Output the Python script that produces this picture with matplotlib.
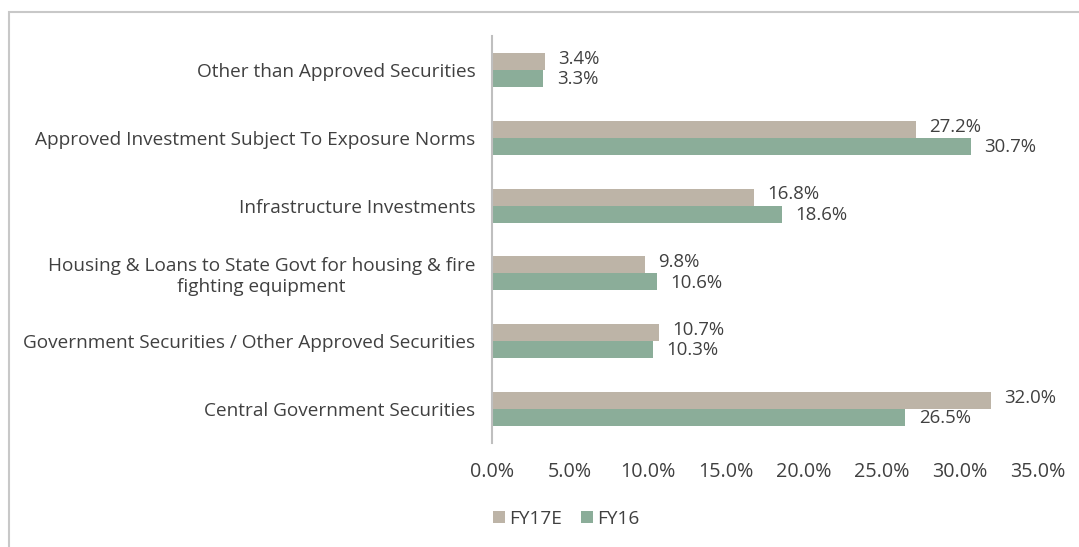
import matplotlib
matplotlib.use("Agg")
import matplotlib.pyplot as plt
from matplotlib.patches import Rectangle
import numpy as np

categories = [
    "Central Government Securities",
    "Government Securities / Other Approved Securities",
    "Housing & Loans to State Govt for housing & fire\nfighting equipment",
    "Infrastructure Investments",
    "Approved Investment Subject To Exposure Norms",
    "Other than Approved Securities",
]
fy17e = [32.0, 10.7, 9.8, 16.8, 27.2, 3.4]
fy16 = [26.5, 10.3, 10.6, 18.6, 30.7, 3.3]
xticks = [0, 5, 10, 15, 20, 25, 30, 35]

c17 = "#BDB4A7"
c16 = "#8BAD99"
tcol = "#404040"
fs_cat = 13.7
fs_num = 14.2
fs_lab = 13.4
plt.rcParams['font.family'] = ['Open Sans', 'DejaVu Sans']

fig = plt.figure(figsize=(10.79, 5.47), dpi=100)
W, H = 1079, 547
ax = fig.add_axes([492 / W, 1 - 443 / H, (1038 - 492) / W, (443 - 36) / H])

y = np.arange(len(categories))
h = 0.25
ax.barh(y + h / 2, fy17e, height=h, color=c17, label="FY17E")
ax.barh(y - h / 2, fy16, height=h, color=c16, label="FY16")

for yi, v in zip(y, fy17e):
    ax.text(v + 0.85, yi + h / 2 + 0.04, f"{v:.1f}%", va="center", ha="left", fontsize=fs_lab, color=tcol)
for yi, v in zip(y, fy16):
    ax.text(v + 0.85, yi - h / 2 - 0.01, f"{v:.1f}%", va="center", ha="left", fontsize=fs_lab, color=tcol)

ax.set_xlim(0, 35)
ax.set_ylim(-0.5, len(categories) - 0.5)
ax.set_yticks(y)
ax.set_yticklabels(categories, fontsize=fs_cat, color=tcol, multialignment='center')
ax.set_xticks(xticks)
ax.set_xticklabels([f"{t:.1f}%" for t in xticks], fontsize=fs_num, color=tcol)
ax.tick_params(axis='both', length=0)
ax.tick_params(axis='y', pad=12)
ax.tick_params(axis='x', pad=14)
for s in ["top", "right", "bottom"]:
    ax.spines[s].set_visible(False)
ax.spines["left"].set_color("#BFBFBF")
ax.spines["left"].set_linewidth(1.5)

leg = fig.legend(loc="center left", bbox_to_anchor=(476 / W, 1 - 519 / H), ncol=2, frameon=False,
                 fontsize=fs_cat, handlelength=0.6, handleheight=0.6, handletextpad=0.25, columnspacing=1.0)
for t in leg.get_texts():
    t.set_color(tcol)

fig.patches.append(Rectangle((9 / W, -0.1), 1.2, 1 - 12 / H + 0.1, transform=fig.transFigure,
                             fill=False, edgecolor="#C8C8C8", linewidth=1.5))

fig.savefig("out.png", dpi=100)
